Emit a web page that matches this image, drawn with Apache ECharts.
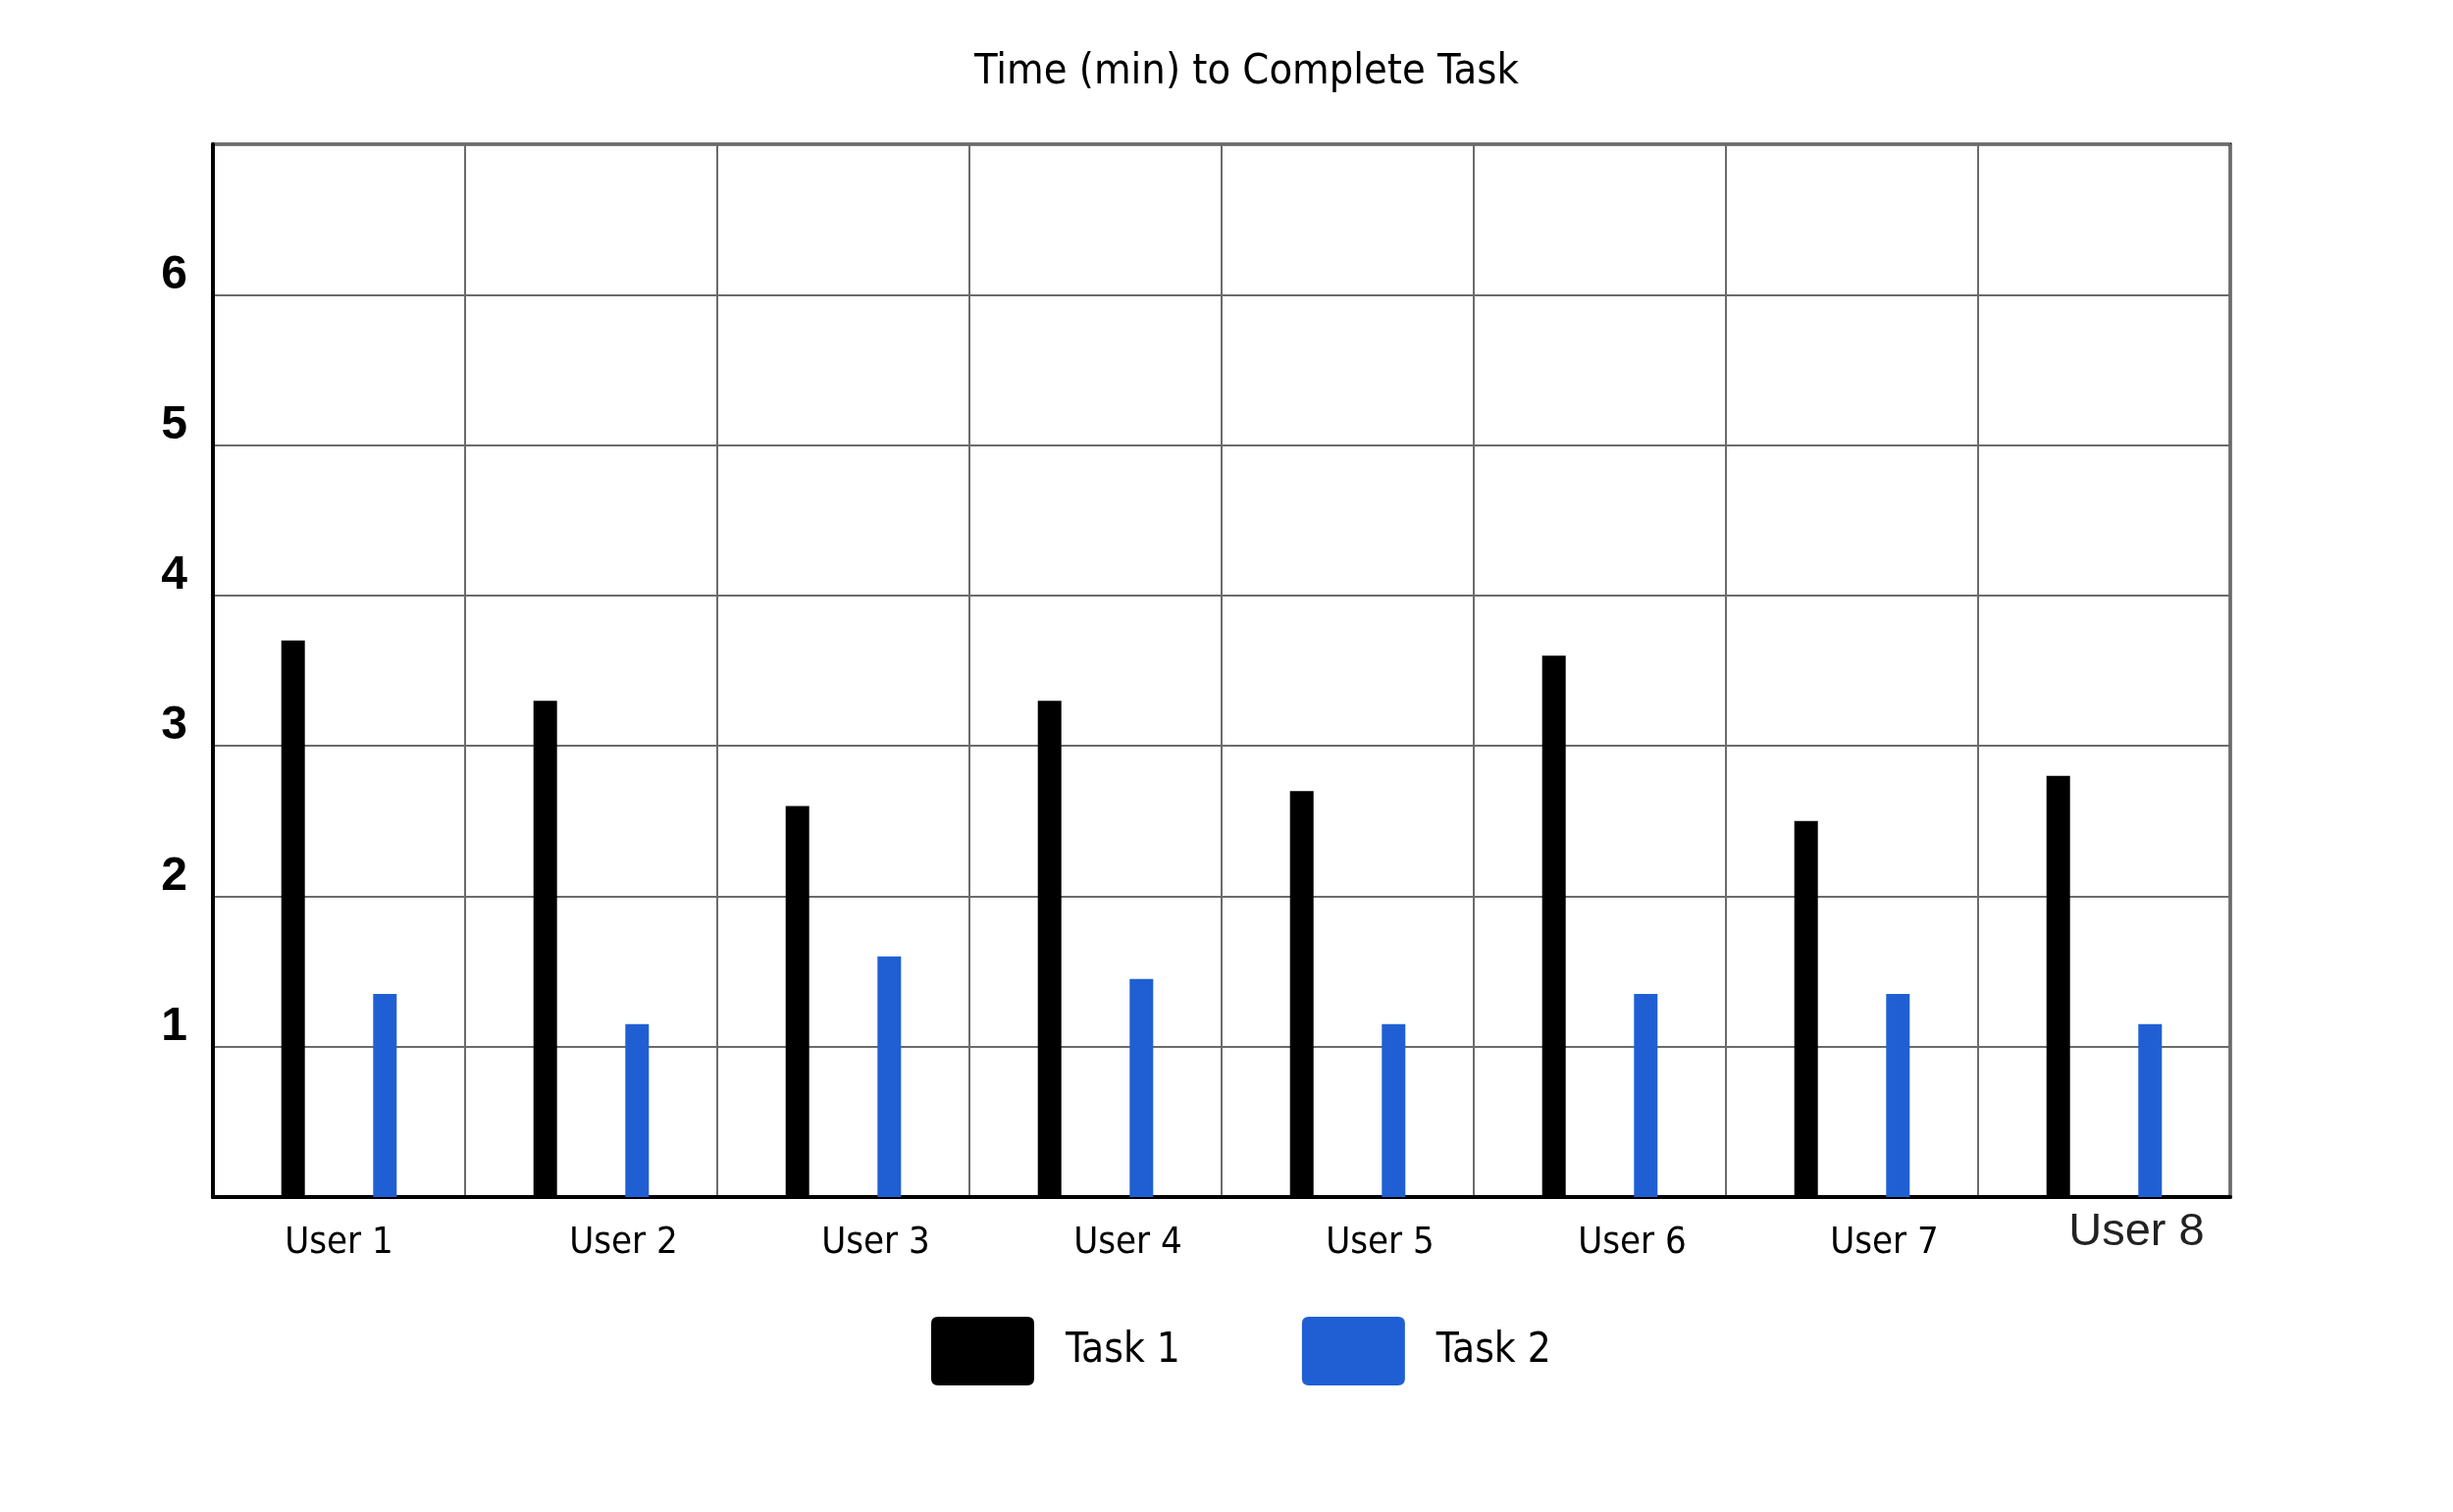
<!DOCTYPE html>
<html>
<head>
<meta charset="utf-8">
<script src="https://cdn.jsdelivr.net/npm/echarts@6/dist/echarts.min.js"></script>
<style>
html,body{margin:0;padding:0;background:#fff;}
#chart{width:2500px;height:1541px;}
</style>
</head>
<body>
<div id="chart"></div>
<script>
const categories = ['User 1','User 2','User 3','User 4','User 5','User 6','User 7','User 8'];
const task1 = [3.7, 3.3, 2.6, 3.3, 2.7, 3.6, 2.5, 2.8];
const task2 = [1.35, 1.15, 1.6, 1.45, 1.15, 1.35, 1.35, 1.15];
const seriesNames = ['Task 1', 'Task 2'];
const yTickLabels = [1, 2, 3, 4, 5, 6];

const NARROW = "'Liberation Sans Narrow','DejaVu Sans Condensed',sans-serif";
const chart = echarts.init(document.getElementById('chart'));
chart.setOption({
  backgroundColor: '#ffffff',
  animation: false,
  title: {
    text: 'Time (min) to Complete Task',
    left: 993,
    top: 52,
    padding: 0,
    textStyle: { fontFamily: NARROW, fontSize: 43, fontWeight: 'normal', color: '#000' }
  },
  legend: {
    data: seriesNames,
    left: 949,
    top: 1342,
    padding: 0,
    itemWidth: 105,
    itemHeight: 70,
    itemGap: 124,
    icon: 'path://M2,0 H28 Q30,0 30,2 V18 Q30,20 28,20 H2 Q0,20 0,18 V2 Q0,0 2,0 Z',
    textStyle: { fontFamily: NARROW, fontSize: 42, color: '#000', padding: [0, 0, 0, 27] }
  },
  grid: {
    left: 217, right: 227, top: 147, bottom: 321,
    show: true, borderColor: '#000', borderWidth: 3, backgroundColor: '#fff'
  },
  xAxis: {
    type: 'category',
    data: categories,
    axisLine: { lineStyle: { color: '#000', width: 4 } },
    axisTick: { show: false },
    splitLine: { show: true, interval: 0, lineStyle: { color: '#6b6b6b', width: 2 } },
    axisLabel: {
      interval: 0,
      margin: 28,
      formatter: function (v, i) {
        if (i === 0) return '{a|' + v + '}';
        if (i === categories.length - 1) return '{c|' + v + '}';
        return '{b|' + v + '}';
      },
      rich: {
        a: { fontFamily: NARROW, fontSize: 38, color: '#000' },
        b: { fontFamily: NARROW, fontSize: 38, color: '#000', padding: [0, 0, 0, 66] },
        c: { fontFamily: "'Liberation Sans',Arial,sans-serif", fontSize: 47, color: '#222', lineHeight: 16, padding: [0, 0, 0, 66] }
      }
    }
  },
  yAxis: {
    type: 'value',
    min: 0,
    max: 7,
    interval: 1,
    axisLine: { show: true, lineStyle: { color: '#000', width: 4 } },
    axisTick: { show: false },
    splitLine: { show: true, lineStyle: { color: '#6b6b6b', width: 2 } },
    axisLabel: {
      margin: 26,
      verticalAlign: 'bottom',
      lineHeight: 40,
      fontFamily: "'Liberation Sans',Arial,sans-serif",
      fontWeight: 'bold',
      fontSize: 48,
      color: '#000',
      formatter: function (v) { return yTickLabels.indexOf(v) >= 0 ? String(v) : ''; }
    }
  },
  series: [
    { name: seriesNames[0], type: 'bar', data: task1, barWidth: 24, barGap: '290%', itemStyle: { color: '#000000' } },
    { name: seriesNames[1], type: 'bar', data: task2, barWidth: 24, barGap: '290%', itemStyle: { color: '#1f5fd3' } }
  ]
});
</script>
</body>
</html>
